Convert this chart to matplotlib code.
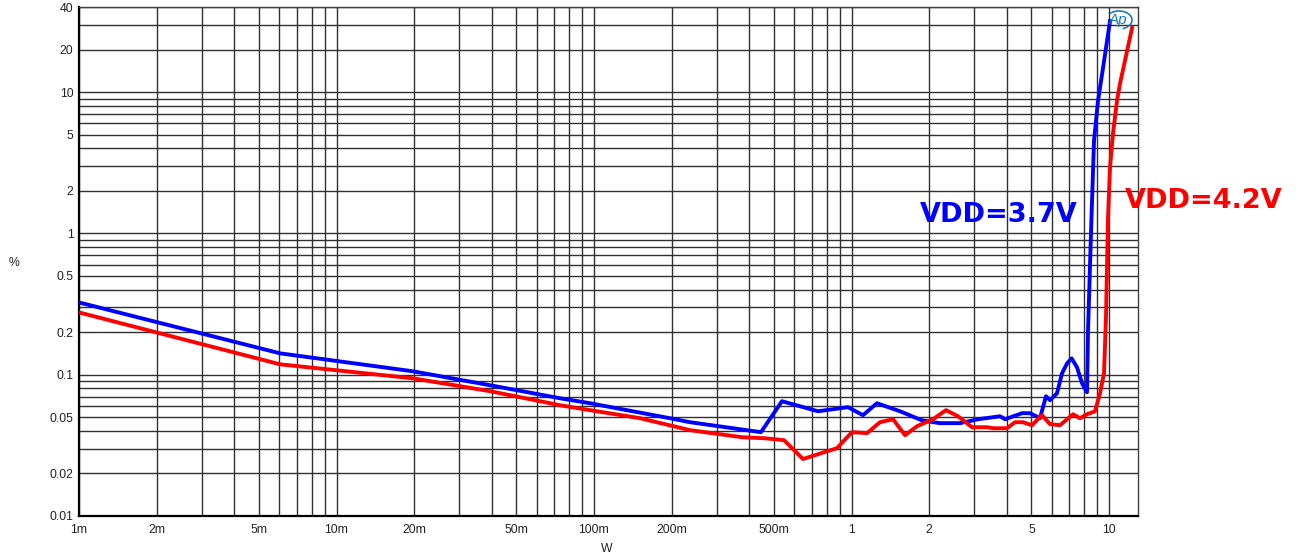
import matplotlib
matplotlib.use("Agg")
import matplotlib.pyplot as plt
from matplotlib.patches import Arc
from matplotlib.ticker import FixedLocator, NullFormatter, LogLocator

# THD+N (%) versus output power (W)
x_37 = [0.001, 0.00604, 0.0198, 0.0395, 0.0738, 0.0965, 0.197, 0.236, 0.445,
        0.537, 0.741, 0.969, 1.108, 1.256, 1.543, 1.72, 1.87, 2.2, 2.639, 3.1,
        3.545, 3.773, 3.95, 4.594, 4.934, 5.395, 5.693, 5.901, 6.282, 6.569,
        6.87, 7.16, 7.511, 7.855, 8.214, 8.287, 8.511, 8.745, 9.065, 9.478, 10.09]
thd_37 = [0.3246, 0.1416, 0.1057, 0.0842, 0.0681, 0.0628, 0.0492, 0.0461, 0.0392,
          0.0649, 0.0551, 0.0589, 0.0517, 0.0628, 0.0551, 0.0508, 0.0476, 0.0454,
          0.0454, 0.0484, 0.0500, 0.0508, 0.0484, 0.0534, 0.0534, 0.0492, 0.0704,
          0.0660, 0.0739, 0.1023, 0.1200, 0.1305, 0.1128, 0.0870, 0.0751, 0.200,
          0.997, 4.52, 8.67, 14.8, 31.8]

x_42 = [0.001, 0.00604, 0.0198, 0.0395, 0.0738, 0.0965, 0.151, 0.236, 0.376,
        0.461, 0.547, 0.648, 0.878, 1.004, 1.149, 1.290, 1.450, 1.614, 1.797,
        2.073, 2.328, 2.592, 2.938, 3.359, 3.545, 4.017, 4.315, 4.634, 5.023,
        5.493, 5.901, 6.452, 7.248, 7.716, 8.214, 8.824, 9.226, 9.563, 9.734,
        9.822, 9.911, 10.09, 10.36, 10.74, 11.03, 11.75, 12.29]
thd_42 = [0.2758, 0.1184, 0.0943, 0.0764, 0.0608, 0.0561, 0.0492, 0.0405, 0.0361,
          0.0355, 0.0344, 0.0253, 0.0302, 0.0392, 0.0386, 0.0461, 0.0484, 0.0373,
          0.0432, 0.0484, 0.0561, 0.0508, 0.0425, 0.0425, 0.0418, 0.0418, 0.0461,
          0.0461, 0.0439, 0.0517, 0.0447, 0.0439, 0.0525, 0.0492, 0.0525, 0.0551,
          0.0739, 0.1023, 0.254, 0.573, 1.293, 2.915, 5.07, 8.67, 11.43, 19.5, 28.4]

xticks = [0.001, 0.002, 0.005, 0.01, 0.02, 0.05, 0.1, 0.2, 0.5, 1, 2, 5, 10]
xlabels = ['1m', '2m', '5m', '10m', '20m', '50m', '100m', '200m', '500m',
           '1', '2', '5', '10']
yticks = [0.01, 0.02, 0.05, 0.1, 0.2, 0.5, 1, 2, 5, 10, 20, 40]
ylabels = ['0.01', '0.02', '0.05', '0.1', '0.2', '0.5', '1', '2', '5', '10',
           '20', '40']

plt.rcParams['font.family'] = ['Liberation Sans', 'DejaVu Sans']

fig = plt.figure(figsize=(12.99, 5.6), dpi=100)
ax = fig.add_axes([79 / 1299, 1 - 516 / 560, 1059 / 1299, 509 / 560])
ax.set_xscale('log')
ax.set_yscale('log')
ax.set_xlim(0.001, 12.96)
ax.set_ylim(0.01, 40)

ax.xaxis.set_major_locator(FixedLocator(xticks))
ax.set_xticklabels(xlabels)
ax.xaxis.set_minor_locator(LogLocator(base=10, subs=range(1, 10), numticks=100))
ax.xaxis.set_minor_formatter(NullFormatter())
ax.yaxis.set_major_locator(FixedLocator(yticks))
ax.set_yticklabels(ylabels)
ax.yaxis.set_minor_locator(LogLocator(base=10, subs=range(1, 10), numticks=100))
ax.yaxis.set_minor_formatter(NullFormatter())

ax.grid(True, which='both', color='#303030', lw=1.0)
ax.tick_params(which='both', length=0, labelsize=8.8, colors='#222222')
ax.tick_params(axis='x', pad=6)
ax.tick_params(axis='y', pad=4)

for s in ['left', 'bottom']:
    ax.spines[s].set_linewidth(1.6)
    ax.spines[s].set_color('black')
for s in ['top', 'right']:
    ax.spines[s].set_linewidth(1.0)
    ax.spines[s].set_color('#404040')

ax.plot(x_37, thd_37, color='#0000ff', lw=2.8, zorder=3)
ax.plot(x_42, thd_42, color='#ff0000', lw=2.8, zorder=4)

fig.text(14 / 1299, 1 - 263 / 560, '%', fontsize=8.8, color='#222222',
         ha='center', va='center')
fig.text(607 / 1299, 1 - 549 / 560, 'W', fontsize=8.8, color='#222222',
         ha='center', va='center')

fig.text(920 / 1299, 1 - 215 / 560, 'VDD=3.7V', fontsize=19.5, fontweight='bold',
         family='DejaVu Sans', color='#0000ff', ha='left', va='center')
fig.text(1125 / 1299, 1 - 201 / 560, 'VDD=4.2V', fontsize=19.5, fontweight='bold',
         family='DejaVu Sans', color='#ff0000', ha='left', va='center')

# small "Ap" logo in the top right corner
fig.text(1118 / 1299, 1 - 20 / 560, 'Ap', fontsize=11, style='italic',
         color='#1a7fc0', ha='center', va='center', zorder=6)
fig.add_artist(Arc((1119 / 1299, 1 - 20 / 560), 26 / 1299, 18 / 560,
                   theta1=-80, theta2=120, color='#1a7fc0', lw=1.2,
                   transform=fig.transFigure))

fig.savefig('out.png', dpi=100)
